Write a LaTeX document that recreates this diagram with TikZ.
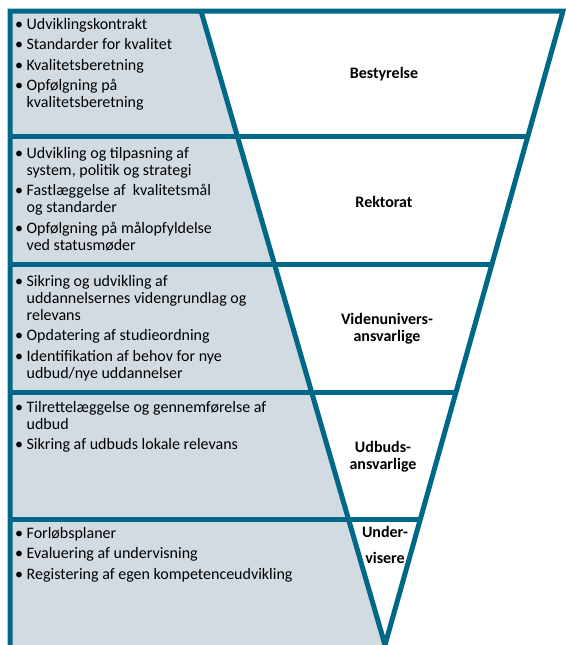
\documentclass[tikz,border=0pt]{standalone}
\usepackage{fontspec}
\setmainfont{Carlito}
\usetikzlibrary{calc}
\definecolor{edgeteal}{RGB}{0,104,135}
\definecolor{panelgrey}{RGB}{211,219,226}
\begin{document}
\begin{tikzpicture}[x=1pt,y=-1pt,
  band/.style={line width=5pt, draw=edgeteal},
  items/.style={anchor=base west, inner sep=0pt, font=\fontsize{16}{17}\selectfont},
  role/.style={font=\fontsize{16}{17}\selectfont\bfseries, align=center, inner sep=0pt}]
\useasboundingbox (0,0) rectangle (565,645);
\coordinate (TL) at (201,11);
\coordinate (TR) at (563,11);
\coordinate (AP) at (385,645);
\coordinate (OL) at (10,11);
\coordinate (OB) at (10,645);
\foreach \n/\t in {1/0.1972,2/0.4006,3/0.6025,4/0.8028} {
  \coordinate (L\n) at ($(TL)!\t!(AP)$);
  \coordinate (R\n) at ($(TR)!\t!(AP)$);
}
\fill[panelgrey] (OL) -- (TL) -- (AP) -- (OB) -- cycle;
\draw[band] (OB) -- (OL) -- (TR) -- (AP);
\draw[band] (TL) -- (AP);
\foreach \n in {1,...,4} \draw[band] (OL |- L\n) -- (R\n);

% bullet lists
\node[items] (t1) at (15,29) {\begin{tabular}[t]{@{}l@{\hspace{3.5pt}}l@{}}
\textbullet & Udviklingskontrakt\\[3.5pt]
\textbullet & Standarder for kvalitet\\[3.5pt]
\textbullet & Kvalitetsberetning\\[3.5pt]
\textbullet & Opfølgning på\\
 & kvalitetsberetning
\end{tabular}};
\node[items] (t2) at (15,158) {\begin{tabular}[t]{@{}l@{\hspace{3.5pt}}l@{}}
\textbullet & Udvikling og tilpasning af\\
 & system, politik og strategi\\[3.5pt]
\textbullet & Fastlæggelse af\ \ kvalitetsmål\\
 & og standarder\\[3.5pt]
\textbullet & Opfølgning på målopfyldelse\\
 & ved statusmøder
\end{tabular}};
\node[items] (t3) at (15,286) {\begin{tabular}[t]{@{}l@{\hspace{3.5pt}}l@{}}
\textbullet & Sikring og udvikling af\\
 & uddannelsernes videngrundlag og\\
 & relevans\\[3.5pt]
\textbullet & Opdatering af studieordning\\[3.5pt]
\textbullet & Identifikation af behov for nye\\
 & udbud/nye uddannelser
\end{tabular}};
\node[items] (t4) at (15,412) {\begin{tabular}[t]{@{}l@{\hspace{3.5pt}}l@{}}
\textbullet & Tilrettelæggelse og gennemførelse af\\
 & udbud\\[3.5pt]
\textbullet & Sikring af udbuds lokale relevans
\end{tabular}};
\node[items] (t5) at (15,538) {\begin{tabular}[t]{@{}l@{\hspace{3.5pt}}l@{}}
\textbullet & Forløbsplaner\\[3.5pt]
\textbullet & Evaluering af undervisning\\[3.5pt]
\textbullet & Registering af egen kompetenceudvikling
\end{tabular}};

% roles
\node[role] (r1) at (384,74) {Bestyrelse};
\node[role] (r2) at (384,202) {Rektorat};
\node[role] (r3) at (387,329) {Videnunivers-\\ansvarlige};
\node[role] (r4) at (383,457) {Udbuds-\\ansvarlige};
\node[role] (r5) at (385,545) {Under-\\[9pt]visere};
\end{tikzpicture}
\end{document}
